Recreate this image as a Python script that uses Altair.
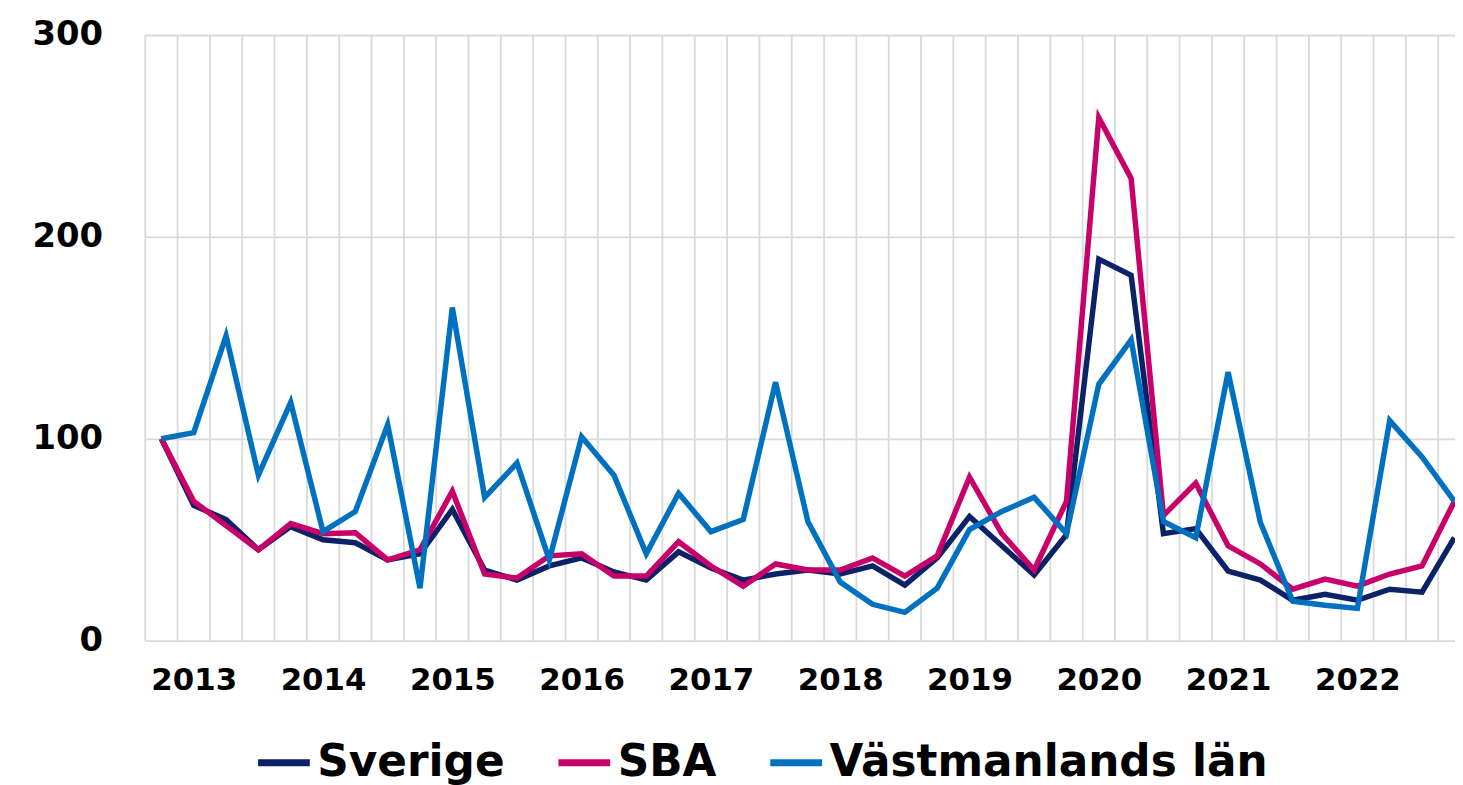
import json
import altair as alt
import pandas as pd

# Quarterly categories: 2012 Q4 .. 2022 Q4 (41 points)
quarters = ["2012 Q4"] + [f"{y} Q{q}" for y in range(2013, 2023) for q in range(1, 5)]

sverige = [100, 67, 60, 45, 56.5, 50, 48.5, 40, 43, 65,
           35, 30, 37, 41, 34, 30, 44, 36, 30, 33,
           35, 33, 37, 27.5, 41, 61.5, 47, 32.5, 52.5, 189,
           181, 53, 55.5, 34.5, 30, 20, 23, 20, 25.5, 24,
           51]
sba = [100, 69, 57, 45, 58, 53, 53.5, 40, 45, 74,
       33, 31, 42, 43, 32, 32, 49, 37, 27, 38,
       35, 35, 41, 32, 42, 81, 53, 35, 69, 259,
       229, 62, 78, 47, 38, 25.5, 30.5, 27, 33, 37,
       69]
vastmanland = [100, 103, 151, 82, 118, 54, 64, 107, 26, 165,
               71, 88, 40, 101, 82, 43, 73, 54, 60, 128,
               59, 29, 18, 14, 26, 55, 64, 71, 53, 127,
               149, 59, 51, 133, 58.5, 19.5, 17.5, 16, 109, 91,
               69]

series_names = ["Sverige", "SBA", "Västmanlands län"]
series_colors = ["#0C2266", "#C8006A", "#0070C0"]
y_ticks = [0, 100, 200, 300]

rows = []
for name, vals in zip(series_names, [sverige, sba, vastmanland]):
    for i, (q, v) in enumerate(zip(quarters, vals)):
        rows.append({"i": i, "kvartal": q, "serie": name, "value": v})
df = pd.DataFrame(rows)

# vertical gridlines at category boundaries
grid_df = pd.DataFrame({"b": [i - 0.5 for i in range(len(quarters))]})
# year labels at each Q1 category
q1_idx = [i for i, q in enumerate(quarters) if q.endswith("Q1")]
labels_arr = [q[:4] if q.endswith("Q1") else "" for q in quarters]
label_expr = json.dumps(labels_arr) + "[round(datum.value)]"

xscale = alt.Scale(domain=[-0.5, 40.02], nice=False, zero=False)
xaxis = alt.Axis(values=q1_idx, title=None, grid=False,
                 ticks=False, tickSize=0, domain=False,
                 labelExpr=label_expr, labelPadding=25,
                 labelFontSize=31, labelFontWeight="bold", labelColor="#000000",
                 labelOverlap=False, labelFlush=False)

grid = alt.Chart(grid_df).mark_rule(color="#d9d9d9", strokeWidth=1.8).encode(
    x=alt.X("b:Q", scale=xscale, axis=xaxis),
)

lines = alt.Chart(df).mark_line(strokeWidth=5.5).encode(
    x=alt.X("i:Q", scale=xscale, axis=xaxis),
    y=alt.Y("value:Q",
            scale=alt.Scale(domain=[0, 300], nice=False),
            axis=alt.Axis(values=y_ticks, title=None, grid=True, gridColor="#d9d9d9",
                          gridWidth=1.8, ticks=False, tickSize=0, domain=False,
                          labelPadding=43, labelFontSize=34, labelFontWeight="bold",
                          labelColor="#000000")),
    color=alt.Color("serie:N",
                    scale=alt.Scale(domain=series_names, range=series_colors),
                    sort=series_names,
                    legend=alt.Legend(orient="none", legendX=110, legendY=702,
                                      direction="horizontal", title=None,
                                      symbolType="stroke", symbolSize=2704,
                                      symbolStrokeWidth=7, labelFontSize=44,
                                      labelFontWeight="bold", labelColor="#000000",
                                      columnPadding=39, labelOffset=4, padding=0,
                                      labelLimit=700)),
    order=alt.Order("i:Q"),
)

chart = alt.layer(grid, lines).properties(
    width=1317,
    height=609,
    autosize=alt.AutoSizeParams(type="none"),
    padding={"left": 138, "top": 25, "right": 0, "bottom": 146},
).configure(
    font="DejaVu Sans",
).configure_view(
    strokeWidth=0,
)

chart.save("out.html", embed_options={"renderer": "svg", "actions": False})
